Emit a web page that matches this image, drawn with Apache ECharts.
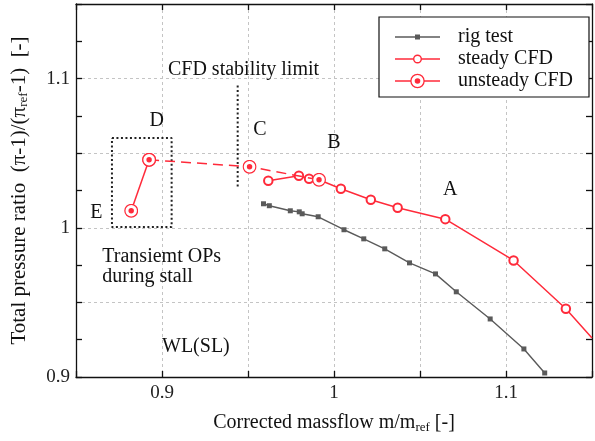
<!DOCTYPE html>
<html>
<head>
<meta charset="utf-8">
<script src="https://cdn.jsdelivr.net/npm/echarts@6/dist/echarts.min.js"></script>
<style>
  html, body { margin: 0; padding: 0; background: #fff; }
  #chart { width: 595px; height: 441px; }
</style>
</head>
<body>
<div id="chart"></div>
<script>
// Compressor map: total pressure ratio vs. corrected massflow
const rigTestX = [0.9590, 0.9624, 0.9746, 0.9798, 0.9815, 0.9908, 1.0058, 1.0173, 1.0295, 1.0439, 1.0590, 1.0711, 1.0908, 1.1104, 1.1225];
const rigTestY = [1.0161, 1.0148, 1.0114, 1.0107, 1.0094, 1.0074, 0.9987, 0.9926, 0.9859, 0.9765, 0.9691, 0.9571, 0.9389, 0.9188, 0.9027];

const steadyX = [0.9618, 0.9796, 0.9855, 0.9913, 1.0040, 1.0214, 1.0370, 1.0647, 1.1044, 1.1348, 1.1500];
const steadyY = [1.0315, 1.0349, 1.0329, 1.0322, 1.0262, 1.0188, 1.0134, 1.0058, 0.9781, 0.9457, 0.9262];

// Unsteady operating points E, D, C, B
const unsteadyX = [0.8821, 0.8925, 0.9509, 0.9913];
const unsteadyY = [1.0114, 1.0456, 1.0409, 1.0322];

// Stability limit marker and transient-OP box
const limitX = [0.9440, 0.9440];
const limitY = [1.0953, 1.0275];
const boxX = [0.8709, 0.9056, 0.9056, 0.8709, 0.8709];
const boxY = [1.0602, 1.0602, 1.0005, 1.0005, 1.0602];

// Annotation texts: [text, x, y, align]
const notes = [
  ['CFD stability limit', 0.9474, 1.1060, 'center'],
  ['D', 0.8970, 1.0718, 'center'],
  ['C', 0.9570, 1.0658, 'center'],
  ['B', 1.0000, 1.0570, 'center'],
  ['A', 1.0676, 1.0255, 'center'],
  ['E', 0.8618, 1.0101, 'center'],
  ['Transiemt OPs', 0.8653, 0.9805, 'left'],
  ['during stall', 0.8653, 0.9671, 'left'],
  ['WL(SL)', 0.9000, 0.9202, 'left']
];

const FONT = '"Liberation Serif", "Times New Roman", serif';
const RED = '#ff2a3a';
const GRAY = '#5a5a5a';

const zip = (xs, ys) => xs.map((x, i) => [x, ys[i]]);
const svgUri = s => 'image://data:image/svg+xml;charset=utf-8,' + encodeURIComponent(s);

// Unsteady marker: open ring with a filled centre dot
const ringSymbol = svgUri(
  "<svg xmlns='http://www.w3.org/2000/svg' width='40' height='40' viewBox='0 0 40 40'>" +
  "<circle cx='20' cy='20' r='17.5' fill='white' stroke='" + RED + "' stroke-width='3.4'/>" +
  "<circle cx='20' cy='20' r='7.5' fill='" + RED + "'/></svg>");

// Legend icons (line + marker)
const legendIcon = inner => svgUri(
  "<svg xmlns='http://www.w3.org/2000/svg' width='45' height='16' viewBox='0 0 45 16'>" + inner + "</svg>");
const rigIcon = legendIcon(
  "<line x1='0' y1='8' x2='45' y2='8' stroke='" + GRAY + "' stroke-width='1.4'/>" +
  "<rect x='20' y='5.5' width='5' height='5' fill='" + GRAY + "'/>");
const steadyIcon = legendIcon(
  "<line x1='0' y1='8' x2='45' y2='8' stroke='" + RED + "' stroke-width='1.5'/>" +
  "<circle cx='22.5' cy='8' r='3.8' fill='white' stroke='" + RED + "' stroke-width='1.4'/>");
const unsteadyIcon = legendIcon(
  "<line x1='0' y1='8' x2='45' y2='8' stroke='" + RED + "' stroke-width='1.5'/>" +
  "<circle cx='22.5' cy='8' r='6.6' fill='white' stroke='" + RED + "' stroke-width='1.3'/>" +
  "<circle cx='22.5' cy='8' r='2.8' fill='" + RED + "'/>");

const tickLabel = v => {
  const t = Math.round(v * 100) / 100;
  if (Math.abs(t * 10 - Math.round(t * 10)) > 1e-6) return '';
  return String(+t.toFixed(1));
};

const steadyData = zip(steadyX, steadyY).map((p, i, arr) =>
  i === arr.length - 1 ? { value: p, symbol: 'none' } : p);

const chart = echarts.init(document.getElementById('chart'), null, { renderer: 'canvas' });

const baseX = { type: 'value', min: 0.85, max: 1.15, interval: 0.05 };
const baseY = { type: 'value', min: 0.9, max: 1.15, interval: 0.05 };
const frameLine = { show: true, lineStyle: { color: '#111', width: 1.3 } };
const innerTick = { show: true, inside: true, length: 6, lineStyle: { color: '#111', width: 1.3 } };
const minor = { show: true, splitNumber: 2, length: 6, lineStyle: { color: '#111', width: 1.3 } };
const gridLine = { show: true, lineStyle: { color: '#c4c4c4', type: [3, 3], width: 1 } };
const subRich = { sub: { fontFamily: FONT, fontSize: 13, color: '#111', verticalAlign: 'bottom', padding: [9, 0, 0, 0] } };

chart.setOption({
  animation: false,
  backgroundColor: '#fff',
  textStyle: { fontFamily: FONT },
  grid: { left: 76, top: 4, right: 1, bottom: 64, containLabel: false },
  xAxis: [
    Object.assign({}, baseX, {
      position: 'bottom',
      name: 'Corrected massflow m/m{sub|ref} [-]',
      nameLocation: 'middle',
      nameGap: 35,
      nameTextStyle: { fontFamily: FONT, fontSize: 20, color: '#111', rich: subRich },
      axisLine: frameLine,
      axisTick: innerTick,
      axisLabel: { formatter: tickLabel, fontFamily: FONT, fontSize: 19, color: '#222', margin: 7, showMinLabel: true, showMaxLabel: true },
      splitLine: gridLine
    }),
    Object.assign({}, baseX, {
      position: 'top',
      axisLine: frameLine,
      axisTick: innerTick,
      axisLabel: { show: false },
      splitLine: { show: false }
    })
  ],
  yAxis: [
    Object.assign({}, baseY, {
      position: 'left',
      name: 'Total pressure ratio  (π-1)/(π{sub|ref}-1)  [-]',
      nameLocation: 'middle',
      nameGap: 46,
      nameTextStyle: { fontFamily: FONT, fontSize: 21, color: '#111', rich: subRich },
      axisLine: frameLine,
      axisTick: innerTick,
      minorTick: minor,
      axisLabel: { formatter: tickLabel, fontFamily: FONT, fontSize: 19, color: '#222', margin: 6, showMinLabel: true, showMaxLabel: true },
      splitLine: gridLine
    }),
    Object.assign({}, baseY, {
      position: 'right',
      axisLine: frameLine,
      axisTick: innerTick,
      minorTick: minor,
      axisLabel: { show: false },
      splitLine: { show: false }
    })
  ],
  legend: {
    orient: 'vertical',
    left: 379, top: 17,
    padding: [10, 16, 6, 16],
    itemWidth: 45, itemHeight: 16, itemGap: 2,
    backgroundColor: '#fff',
    borderColor: '#111', borderWidth: 1.2, borderRadius: 0,
    textStyle: { fontFamily: FONT, fontSize: 20, color: '#111', padding: [0, 0, 0, 13] },
    data: [
      { name: 'rig test', icon: rigIcon },
      { name: 'steady CFD', icon: steadyIcon },
      { name: 'unsteady CFD', icon: unsteadyIcon }
    ]
  },
  series: [
    {
      name: 'stability limit', type: 'line', data: zip(limitX, limitY),
      symbol: 'none', silent: true,
      lineStyle: { color: '#222', width: 2, type: [2, 2.5] }, z: 1
    },
    {
      name: 'stall box', type: 'line', data: zip(boxX, boxY),
      symbol: 'none', silent: true,
      lineStyle: { color: '#222', width: 2, type: [2, 2.5] }, z: 1
    },
    {
      name: 'rig test', type: 'line', data: zip(rigTestX, rigTestY),
      symbol: 'rect', symbolSize: 5,
      itemStyle: { color: GRAY },
      lineStyle: { color: GRAY, width: 1.4 }, z: 2
    },
    {
      name: 'steady CFD', type: 'line', data: steadyData,
      symbol: 'emptyCircle', symbolSize: 8.5,
      itemStyle: { color: RED, borderColor: RED, borderWidth: 1.3 },
      lineStyle: { color: RED, width: 1.5 }, z: 3
    },
    {
      name: 'unsteady CFD', type: 'line', data: zip(unsteadyX, unsteadyY).slice(0, 2),
      symbol: ringSymbol, symbolSize: 14.5,
      itemStyle: { color: RED },
      lineStyle: { color: RED, width: 1.5 }, z: 4
    },
    {
      name: 'unsteady CFD (stall path)', type: 'line', data: zip(unsteadyX, unsteadyY).slice(1),
      symbol: ringSymbol, symbolSize: 14.5,
      itemStyle: { color: RED },
      lineStyle: { color: RED, width: 1.5, type: [10, 6] }, z: 4
    }
  ]
});

// Place annotation texts at their data positions
const texts = notes.map(([text, x, y, align]) => {
  const p = chart.convertToPixel({ xAxisIndex: 0, yAxisIndex: 0 }, [x, y]);
  return {
    type: 'text', x: p[0], y: p[1], z: 10,
    style: {
      text: text, fill: '#111', font: '20px ' + FONT,
      align: align, verticalAlign: 'middle'
    }
  };
});
chart.setOption({ graphic: texts });
</script>
</body>
</html>
